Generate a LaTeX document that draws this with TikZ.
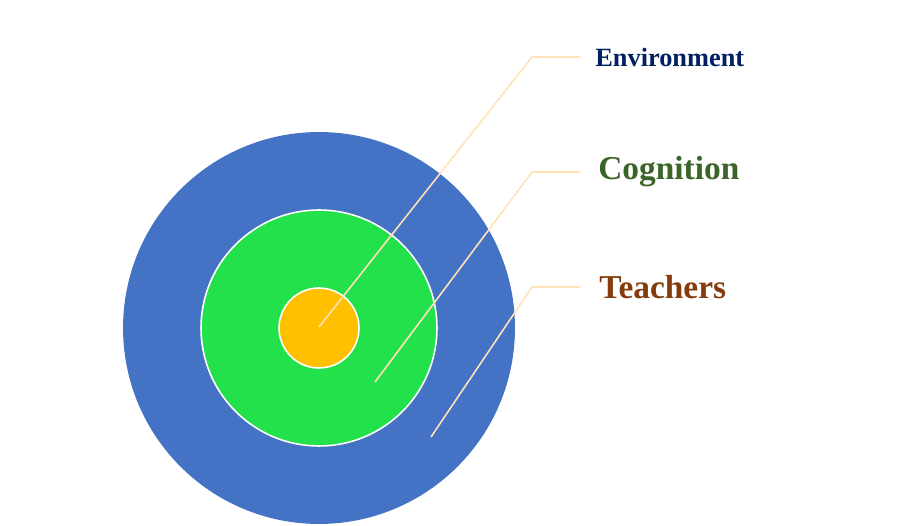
\documentclass[tikz,border=0pt]{standalone}
\usepackage{fontspec}
\setmainfont{Liberation Serif}
\usetikzlibrary{positioning}
\definecolor{ringblue}{HTML}{4472C4}
\definecolor{ringgreen}{HTML}{22E14B}
\definecolor{ringgold}{HTML}{FFC000}
\definecolor{leadline}{HTML}{FFE2B8}
\definecolor{envcol}{HTML}{002060}
\definecolor{cogcol}{HTML}{3A6428}
\definecolor{teachcol}{HTML}{843C0C}
\tikzset{
    ring/.style={circle, draw=white, line width=0.9pt, inner sep=0pt},
    lead/.style={draw=leadline, line width=0.9pt},
    tag/.style={anchor=west, inner sep=0pt, font=\bfseries}
}
\begin{document}
\begin{tikzpicture}[x=0.02cm, y=-0.02cm]
    \useasboundingbox (0, 0) rectangle (900, 526);
    \node[ring, draw=none, fill=ringblue, minimum size=7.84cm] (outer) at (319, 328) {};
    \node[ring, fill=ringgreen, minimum size=4.72cm] (middle) at (319, 328) {};
    \node[ring, fill=ringgold, minimum size=1.6cm] (inner) at (319, 328) {};
    % leader lines
    \coordinate (e0) at (319, 327);
    \coordinate (e1) at (532, 57);
    \coordinate (e2) at (580, 57);
    \coordinate (c0) at (375, 382);
    \coordinate (c1) at (532, 172);
    \coordinate (c2) at (580, 172);
    \coordinate (t0) at (431, 437);
    \coordinate (t1) at (532, 287);
    \coordinate (t2) at (580, 287);
    \draw[lead] (e0) -- (e1) -- (e2);
    \draw[lead] (c0) -- (c1) -- (c2);
    \draw[lead] (t0) -- (t1) -- (t2);
    % labels
    \node[tag, text=envcol, font=\bfseries\fontsize{15}{18}\selectfont] (env) at (595, 57) {Environment};
    \node[tag, text=cogcol, font=\bfseries\fontsize{19}{22}\selectfont] (cog) at (598, 172) {Cognition};
    \node[tag, text=teachcol, font=\bfseries\fontsize{19}{22}\selectfont] (teach) at (599, 287) {Teachers};
\end{tikzpicture}
\end{document}
